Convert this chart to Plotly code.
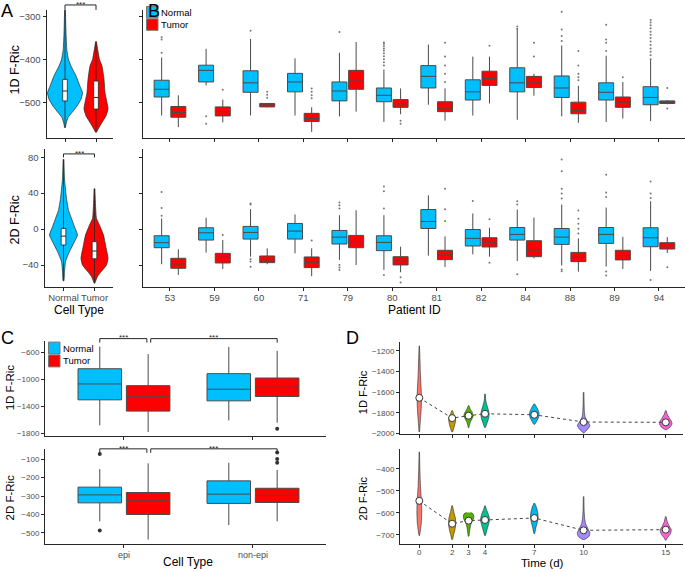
import plotly.graph_objects as go

W, H = 685, 572
def px(x): return x / W
def py(y): return 1 - y / H

FONT = "Liberation Sans, Arial, Helvetica, sans-serif"
BLUE = "#00BFFF"
RED = "#FF0000"
DARK = "#262626"
GREY_TXT = "#4d4d4d"

# ---------------- Panel A: violin density profiles (value, half-width) ----------------
A1_normal_y = [-285, -338, -377, -400, -415, -438, -462, -477, -492, -508, -523, -535, -550, -558]
A1_normal_w = [0.4, 1, 1.8, 3.5, 6, 11, 15, 17.5, 16, 12, 7, 3, 1, 0.4]
A1_tumor_y = [-358, -400, -415, -446, -477, -500, -515, -531, -546, -562, -569]
A1_tumor_w = [0.4, 3.5, 6, 8, 9, 11, 12, 10, 6, 2, 0.4]
A1_box_q1 = [-496, -515]
A1_box_med = [-473, -488]
A1_box_q3 = [-446, -450]
A1_box_lo = [-558, -569]
A1_box_hi = [-285, -358]

A2_normal_y = [77.6, 56, 34, 21, 11.8, 2.6, -6.6, -14, -25, -36, -47, -57.6]
A2_normal_w = [0.4, 1, 3, 5, 8, 11, 14, 11, 6, 2, 1, 0.4]
A2_tumor_y = [45, 26.6, 11.8, 4.4, -6.6, -17.7, -32.5, -40, -47, -52.8, -58.4, -60.2]
A2_tumor_w = [0.4, 1, 2, 5, 9, 11, 13.5, 12, 7, 3, 1, 0.3]
A2_box_q1 = [-17.7, -33]
A2_box_med = [-7.8, -24.4]
A2_box_q3 = [0.7, -14]
A2_box_lo = [-57.6, -60.2]
A2_box_hi = [77.6, 45]

cell_groups = ["Normal", "Tumor"]

# ---------------- Panel B: per-patient box statistics ----------------
patients = ["53", "59", "60", "71", "79", "80", "81", "82", "84", "88", "89", "94"]

B1_normal_q1 = [-487, -452, -476, -475, -496, -498, -466, -494, -475, -488, -494, -505]
B1_normal_med = [-469, -425, -454, -452, -473, -483, -439, -475, -454, -466, -476, -488]
B1_normal_q3 = [-448, -413, -426, -432, -452, -466, -414, -447, -419, -438, -454, -463]
B1_normal_lo = [-530, -460, -530, -530, -532, -545, -505, -530, -540, -532, -545, -543]
B1_normal_hi = [-395, -375, -352, -397, -384, -423, -365, -393, -327, -367, -391, -401]
B1_tumor_q1 = [-534, -531, -510, -544, -469, -511, -521, -460, -465, -526, -511, -502]
B1_tumor_med = [-523, -521, -505, -537, -450, -503, -513, -444, -454, -518, -499, -500]
B1_tumor_q3 = [-509, -510, -502, -525, -425, -493, -498, -427, -439, -499, -487, -496]
B1_tumor_lo = [-557, -546, -511, -568, -521, -527, -542, -502, -484, -547, -537, -504]
B1_tumor_hi = [-483, -493, -501, -511, -359, -467, -467, -393, -433, -461, -452, -494]
B1_normal_out = [
    [-384, -353, -348], [-532, -549], [-333], [], [-336],
    [-360, -364, -369, -374, -379, -385, -392, -399, -406, -414],
    [], [], [-323, -329], [-289, -330, -345, -357], [-319, -353, -361, -380],
    [-308, -314, -320, -327, -335, -342, -350, -358, -366, -374, -382, -390, -399],
]
B1_tumor_out = [
    [], [-470], [-475, -482, -489], [-467, -475, -483, -490], [], [-542, -549],
    [-361, -393, -414, -433, -452], [-368], [-361, -393],
    [-380, -414, -433, -441, -448], [-441], [-466, -514],
]

B2_normal_q1 = [-20.7, -12.2, -11.1, -11.1, -16.6, -24.0, 0.7, -18.8, -12.2, -17.0, -15.9, -19.6]
B2_normal_med = [-15.1, -4.1, -3.7, -2.2, -8.9, -14.8, 8.5, -10.3, -5.9, -8.9, -5.9, -9.6]
B2_normal_q3 = [-7.4, 1.5, 3.0, 6.3, -1.5, -7.4, 21.8, -0.4, 1.8, 0.7, 1.8, 1.5]
B2_normal_lo = [-39.1, -26.2, -30.7, -27.0, -34.3, -45.4, -29.5, -28.1, -35.5, -40.6, -41.7, -46.5]
B2_normal_hi = [11.8, 12.6, 22.2, 16.3, 15.5, 15.5, 37.7, 17.4, 21.8, 27.3, 24.0, 31.0]
B2_tumor_q1 = [-43.6, -37.7, -37.3, -42.8, -20.7, -39.9, -34.0, -19.9, -30.7, -36.2, -34.3, -22.2]
B2_tumor_med = [-38.8, -31.4, -35.5, -36.9, -14.0, -35.5, -28.8, -15.1, -24.4, -31.4, -29.5, -18.5]
B2_tumor_q3 = [-32.5, -27.0, -29.9, -31.0, -7.0, -30.7, -23.6, -9.6, -12.9, -25.9, -23.6, -15.1]
B2_tumor_lo = [-51.0, -44.3, -39.1, -52.4, -39.9, -48.0, -42.1, -30.7, -32.5, -47.3, -44.3, -26.6]
B2_tumor_hi = [-22.5, -12.2, -21.4, -21.4, 21.0, -19.6, -8.1, 1.5, 12.9, -10.3, -8.5, -8.9]
B2_normal_out = [
    [14.8, 23.6, 41.4], [], [27.3, 28.5, -33.5, -36, -42], [],
    [29.5, 26.6, 22.9, -40, -42.8, -45.4], [47.5, 42, 22.9, -51], [], [31.4],
    [31, 27.3, -50.2], [77.4, 64.5, 45, 39.5, 34, -45, -47],
    [60.4, 40.6, 35.8, -47.3, -51.7], [53, 39.5, 34.7, -56.5],
]
B2_tumor_out = [
    [], [-6.6], [], [-12.6], [], [-53.6, -59.5], [45, 22.2, 8.9], [11.1, -37.3],
    [], [20.7, 11.5, 6, 0.5, -4.8], [], [-42.5],
]

# ---------------- Panel C ----------------
cell_types = ["epi", "non-epi"]
C1_normal_q1 = [-1300, -1315]
C1_normal_med = [-1065, -1143]
C1_normal_q3 = [-840, -913]
C1_normal_lo = [-1677, -1604]
C1_normal_hi = [-512, -517]
C1_tumor_q1 = [-1467, -1251]
C1_tumor_med = [-1246, -1114]
C1_tumor_q3 = [-1090, -977]
C1_tumor_lo = [-1775, -1638]
C1_tumor_hi = [-624, -576]
C1_normal_out = [[], []]
C1_tumor_out = [[], [-1726]]

C2_normal_q1 = [-337, -340]
C2_normal_med = [-294, -290]
C2_normal_q3 = [-252, -218]
C2_normal_lo = [-437, -457]
C2_normal_hi = [-154, -120]
C2_tumor_q1 = [-400, -335]
C2_tumor_med = [-326, -296]
C2_tumor_q3 = [-281, -258]
C2_tumor_lo = [-536, -437]
C2_tumor_hi = [-123, -159]
C2_normal_out = [[-73, -487], []]
C2_tumor_out = [[], [-64, -100, -120]]

# ---------------- Panel D ----------------
times = [0, 2, 3, 4, 7, 10, 15]
time_colors = ["#F8766D", "#C49A00", "#53B400", "#00C094", "#00B6EB", "#A58AFF", "#FB61D7"]
D1_center = [-1654, -1850, -1827, -1808, -1818, -1888, -1891]
D2_center = [-545, -649, -635, -632, -623, -679, -676]
D1_prof_y = [
    [-1152, -1264, -1392, -1520, -1616, -1680, -1776, -1872, -1936, -1984],
    [-1776, -1808, -1840, -1866, -1898, -1936, -1968, -1984],
    [-1728, -1760, -1792, -1824, -1856, -1888, -1920, -1942],
    [-1616, -1680, -1728, -1776, -1814, -1856, -1898, -1942],
    [-1712, -1738, -1776, -1808, -1846, -1878, -1910],
    [-1600, -1712, -1792, -1840, -1878, -1920, -1952, -1978, -1994],
    [-1776, -1814, -1846, -1878, -1904, -1936, -1962],
]
D1_prof_w = [
    [0.2, 0.6, 1.0, 1.6, 2.1, 2.2, 1.8, 1.1, 0.6, 0.2],
    [0.3, 1.5, 3.0, 3.5, 3.0, 2.0, 1.0, 0.3],
    [0.3, 1.5, 3.5, 4.7, 3.5, 1.8, 0.8, 0.3],
    [0.3, 0.8, 2.0, 3.5, 4.2, 3.5, 2.0, 0.3],
    [0.3, 2.0, 4.0, 4.8, 4.2, 2.5, 0.5],
    [0.3, 0.5, 0.8, 1.5, 3.5, 6.3, 4.5, 2.0, 0.3],
    [0.3, 1.5, 3.5, 5.5, 6.3, 4.5, 0.5],
]
D2_prof_y = [
    [-322, -405, -480, -555, -601, -646, -676, -703],
    [-566, -593, -623, -649, -676, -699, -721],
    [-598, -604, -616, -631, -649, -668, -691, -706],
    [-567, -585, -608, -631, -653, -676, -703],
    [-555, -573, -598, -619, -643, -668, -694],
    [-525, -585, -623, -649, -673, -691, -706, -718, -721],
    [-616, -640, -660, -676, -694, -714, -724],
]
D2_prof_w = [
    [0.2, 0.6, 1.2, 2.2, 2.4, 2.0, 1.2, 0.2],
    [0.3, 1.5, 3.2, 3.6, 2.8, 1.5, 0.3],
    [2.0, 4.5, 5.3, 4.5, 2.5, 1.5, 0.8, 0.3],
    [0.3, 1.5, 3.5, 4.5, 3.5, 2.0, 0.3],
    [0.3, 2.0, 3.5, 3.8, 3.0, 1.5, 0.3],
    [0.3, 0.5, 1.0, 2.0, 4.5, 6.3, 5.5, 2.0, 0.3],
    [0.3, 1.5, 3.5, 5.5, 4.8, 1.5, 0.3],
]

# ======================================================================
fig = go.Figure()

def violin(center, ys, ws, px_per_unit, color, xa, ya, lw=0.7):
    xs = [center + w / px_per_unit for w in ws] + [center - w / px_per_unit for w in ws[::-1]]
    yy = list(ys) + list(ys[::-1])
    return go.Scatter(x=xs, y=yy, mode="lines", fill="toself", fillcolor=color,
                      line=dict(color=DARK, width=lw, shape="spline", smoothing=0.5),
                      xaxis=xa, yaxis=ya, hoverinfo="skip", showlegend=False)

def inner_box(q1, med, q3, lo, hi, half, xa, ya):
    """Narrow white box-plot drawn over violins (scatter so it sits above the fill)."""
    wx, wy, bx, by, mx, my = [], [], [], [], [], []
    for i in range(len(q1)):
        wx += [i, i, None]
        wy += [lo[i], hi[i], None]
        bx += [i - half, i + half, i + half, i - half, i - half, None]
        by += [q1[i], q1[i], q3[i], q3[i], q1[i], None]
        mx += [i - half, i + half, None]
        my += [med[i], med[i], None]
    return [
        go.Scatter(x=wx, y=wy, mode="lines", line=dict(color=DARK, width=0.8),
                   xaxis=xa, yaxis=ya, hoverinfo="skip", showlegend=False),
        go.Scatter(x=bx, y=by, mode="lines", fill="toself", fillcolor="white",
                   line=dict(color=DARK, width=0.8),
                   xaxis=xa, yaxis=ya, hoverinfo="skip", showlegend=False),
        go.Scatter(x=mx, y=my, mode="lines", line=dict(color=DARK, width=1),
                   xaxis=xa, yaxis=ya, hoverinfo="skip", showlegend=False),
    ]

def stat_box(xpos, q1, med, q3, lo, hi, color, xa, ya, og, lc="#4a4a4a"):
    return go.Box(x=xpos, q1=q1, median=med, q3=q3, lowerfence=lo, upperfence=hi,
                  fillcolor=color, line=dict(color=lc, width=1), whiskerwidth=0,
                  boxpoints=False, xaxis=xa, yaxis=ya, showlegend=False, hoverinfo="skip",
                  offsetgroup=og)

def outliers(out_lists, shift, xa, ya, size, color):
    xs, ys = [], []
    for i, vals in enumerate(out_lists):
        for v in vals:
            xs.append(i + shift)
            ys.append(v)
    return go.Scatter(x=xs, y=ys, mode="markers", marker=dict(size=size, color=color),
                      xaxis=xa, yaxis=ya, hoverinfo="skip", showlegend=False)

# ---- Panel A
A_PX = 31.0
fig.add_trace(violin(0, A1_normal_y, A1_normal_w, A_PX, BLUE, "x", "y"))
fig.add_trace(violin(1, A1_tumor_y, A1_tumor_w, A_PX, RED, "x", "y"))
fig.add_traces(inner_box(A1_box_q1, A1_box_med, A1_box_q3, A1_box_lo, A1_box_hi, 0.075, "x", "y"))
fig.add_trace(violin(0, A2_normal_y, A2_normal_w, A_PX, BLUE, "x2", "y2"))
fig.add_trace(violin(1, A2_tumor_y, A2_tumor_w, A_PX, RED, "x2", "y2"))
fig.add_traces(inner_box(A2_box_q1, A2_box_med, A2_box_q3, A2_box_lo, A2_box_hi, 0.075, "x2", "y2"))

# ---- Panel B
idx = list(range(len(patients)))
OFF = 0.1875
fig.add_trace(stat_box(idx, B1_normal_q1, B1_normal_med, B1_normal_q3, B1_normal_lo, B1_normal_hi, BLUE, "x3", "y3", "N"))
fig.add_trace(stat_box(idx, B1_tumor_q1, B1_tumor_med, B1_tumor_q3, B1_tumor_lo, B1_tumor_hi, RED, "x3", "y3", "T"))
fig.add_trace(outliers(B1_normal_out, -OFF, "x3", "y3", 2, "#777"))
fig.add_trace(outliers(B1_tumor_out, OFF, "x3", "y3", 2, "#777"))
fig.add_trace(stat_box(idx, B2_normal_q1, B2_normal_med, B2_normal_q3, B2_normal_lo, B2_normal_hi, BLUE, "x4", "y4", "N"))
fig.add_trace(stat_box(idx, B2_tumor_q1, B2_tumor_med, B2_tumor_q3, B2_tumor_lo, B2_tumor_hi, RED, "x4", "y4", "T"))
fig.add_trace(outliers(B2_normal_out, -OFF, "x4", "y4", 2, "#777"))
fig.add_trace(outliers(B2_tumor_out, OFF, "x4", "y4", 2, "#777"))

# ---- Panel C
cidx = [0, 1]
fig.add_trace(stat_box(cidx, C1_normal_q1, C1_normal_med, C1_normal_q3, C1_normal_lo, C1_normal_hi, BLUE, "x5", "y5", "N"))
fig.add_trace(stat_box(cidx, C1_tumor_q1, C1_tumor_med, C1_tumor_q3, C1_tumor_lo, C1_tumor_hi, RED, "x5", "y5", "T"))
fig.add_trace(outliers(C1_normal_out, -OFF, "x5", "y5", 4, "#333"))
fig.add_trace(outliers(C1_tumor_out, OFF, "x5", "y5", 4, "#333"))
fig.add_trace(stat_box(cidx, C2_normal_q1, C2_normal_med, C2_normal_q3, C2_normal_lo, C2_normal_hi, BLUE, "x6", "y6", "N"))
fig.add_trace(stat_box(cidx, C2_tumor_q1, C2_tumor_med, C2_tumor_q3, C2_tumor_lo, C2_tumor_hi, RED, "x6", "y6", "T"))
fig.add_trace(outliers(C2_normal_out, -OFF, "x6", "y6", 4, "#333"))
fig.add_trace(outliers(C2_tumor_out, OFF, "x6", "y6", 4, "#333"))

# ---- Panel D
D_PX = 16.43
for xa, ya, pys, pws, cen in [("x7", "y7", D1_prof_y, D1_prof_w, D1_center),
                              ("x8", "y8", D2_prof_y, D2_prof_w, D2_center)]:
    for t, col, ys, ws in zip(times, time_colors, pys, pws):
        fig.add_trace(violin(t, ys, ws, D_PX, col, xa, ya, lw=0.6))
    fig.add_trace(go.Scatter(x=times, y=cen, mode="lines",
                             line=dict(color="#444", width=1, dash="dot"),
                             xaxis=xa, yaxis=ya, hoverinfo="skip", showlegend=False))
    fig.add_trace(go.Scatter(x=times, y=cen, mode="markers",
                             marker=dict(size=7, color="white", line=dict(color="#333", width=1)),
                             xaxis=xa, yaxis=ya, hoverinfo="skip", showlegend=False))

# ======================================================================
def axis(domain, rng, anchor, tickvals=None, ticktext=None, labels=True, fs=9, standoff=None):
    d = dict(domain=domain, range=rng, anchor=anchor, showline=True, linecolor=DARK,
             linewidth=1, ticks="outside", ticklen=3, tickwidth=1, tickcolor=DARK,
             showgrid=False, zeroline=False, fixedrange=True, showticklabels=labels,
             tickfont=dict(size=fs, color=GREY_TXT, family=FONT))
    if standoff is not None:
        d["ticklabelstandoff"] = standoff
    if tickvals is not None:
        d["tickmode"] = "array"
        d["tickvals"] = tickvals
        if ticktext is not None:
            d["ticktext"] = ticktext
    return d

A1_ydom = [py(139), py(10)]
A2_ydom = [py(289), py(150)]
C1_ydom = [py(439), py(343)]
C2_ydom = [py(547.7), py(451.7)]
D1_ydom = [py(437.5), py(344)]
D2_ydom = [py(547.7), py(451.7)]

layout = dict(
    width=W, height=H, margin=dict(l=0, r=0, t=0, b=0),
    paper_bgcolor="white", plot_bgcolor="white", showlegend=False,
    boxmode="group", boxgap=0.25, boxgroupgap=0.1,
    font=dict(family=FONT, color="black"),
    # A
    xaxis=axis([px(46.5), px(113)], [-0.597, 1.548], "y", [0, 1], cell_groups, labels=False),
    yaxis=axis(A1_ydom, [-582.4, -284.5], "x", [-500, -400, -300], fs=9.5),
    xaxis2=axis([px(44.5), px(113)], [-0.613, 1.597], "y2", [0, 1], cell_groups, fs=9.5, standoff=-1),
    yaxis2=axis(A2_ydom, [-64.4, 89.2], "x2", [-40, 0, 40, 80], fs=9.5),
    # B
    xaxis3=axis([px(143), px(685)], [-0.607, 11.586], "y3", idx, patients, labels=False),
    yaxis3=axis(A1_ydom, [-582.4, -284.5], "x3", [-500, -400, -300], labels=False),
    xaxis4=axis([px(143), px(685)], [-0.607, 11.586], "y4", idx, patients, fs=9.5, standoff=-1),
    yaxis4=axis(A2_ydom, [-64.4, 89.2], "x4", [-40, 0, 40, 80], labels=False),
    # C
    xaxis5=axis([px(45), px(326)], [-0.612, 1.566], "y5", cidx, cell_types, labels=False),
    yaxis5=axis(C1_ydom, [-1834, -423.6], "x5", [-1800, -1400, -1000, -600], fs=8),
    xaxis6=axis([px(45), px(326)], [-0.612, 1.566], "y6", cidx, cell_types, fs=9, standoff=-1),
    yaxis6=axis(C2_ydom, [-559, -43], "x6", [-500, -400, -300, -200, -100], fs=8),
    # D
    xaxis7=axis([px(400), px(683)], [-1.175, 16.05], "y7", times, [str(t) for t in times], labels=False),
    yaxis7=axis(D1_ydom, [-2008, -1110.7], "x7", [-2000, -1800, -1600, -1400, -1200], fs=8),
    xaxis8=axis([px(400), px(683)], [-1.175, 16.05], "y8", times, [str(t) for t in times], fs=8, standoff=-2),
    yaxis8=axis(D2_ydom, [-740.7, -307], "x8", [-700, -600, -500, -400], fs=8),
)

ann = []
shapes = []

def text(x, y, s, size, angle=0, color="black", xanchor="center", yanchor="middle"):
    ann.append(dict(x=px(x), y=py(y), xref="paper", yref="paper", text=s,
                    showarrow=False, textangle=angle, xanchor=xanchor, yanchor=yanchor,
                    borderpad=0, font=dict(size=size, color=color, family=FONT)))

# panel letters
text(7, 11.5, "A", 18)
text(154, 11.5, "B", 18)
text(8, 340, "C", 18)
text(352, 340, "D", 18)

# axis titles
text(15, 71, "1D F-Ric", 12.5, angle=-90)
text(15, 222, "2D F-Ric", 12.5, angle=-90)
text(79, 312, "Cell Type", 12)
text(414, 312, "Patient ID", 12)
text(10, 390, "1D F-Ric", 11.5, angle=-90)
text(10, 501, "2D F-Ric", 11.5, angle=-90)
text(188, 566, "Cell Type", 12)
text(363, 395, "1D F-Ric", 11, angle=-90)
text(363, 502, "2D F-Ric", 11, angle=-90)
text(542, 566.5, "Time (d)", 11.5)

# legends (B and C)
def legend(xk, yk_top, kh, kw, tx):
    for i, (lab, col) in enumerate([("Normal", BLUE), ("Tumor", RED)]):
        y0 = yk_top + i * kh
        shapes.append(dict(type="rect", xref="paper", yref="paper", x0=px(xk), x1=px(xk + kw),
                           y0=py(y0 + kh - 0.5), y1=py(y0 + 0.5), fillcolor=col,
                           line=dict(color="#777", width=1)))
        text(tx, y0 + kh / 2, lab, 9.5, xanchor="left")

legend(146.5, 6, 12.5, 11.5, 160)
legend(48.5, 344, 13, 11.5, 62)

# significance brackets
def bracket(xref, xa, xb, ytop, ybot, label_y):
    shapes.append(dict(type="path", xref=xref, yref="paper",
                       path=f"M {xa},{py(ybot)} L {xa},{py(ytop)} L {xb},{py(ytop)} L {xb},{py(ybot)}",
                       line=dict(color=DARK, width=1)))
    ann.append(dict(x=(xa + xb) / 2, y=py(label_y), xref=xref, yref="paper", text="***",
                    showarrow=False, xanchor="center", yanchor="middle",
                    font=dict(size=8, color=DARK, family=FONT)))

bracket("x", 0, 1, 5, 10, 4.5)
bracket("x2", 0, 1, 155, 158.5, 154.5)
bracket("x5", -OFF, OFF - 0.01, 341, 345, 340)
bracket("x5", OFF + 0.02, 1 + OFF, 341, 345, 340)
bracket("x6", -OFF, OFF - 0.01, 452, 456, 451.5)
bracket("x6", OFF + 0.02, 1 + OFF, 452, 456, 451.5)

layout["annotations"] = ann
layout["shapes"] = shapes
fig.update_layout(**layout)
fig.write_html("out.html",
               config={"displayModeBar": False, "staticPlot": True},
               post_script="document.body.style.margin='0px';document.body.style.padding='0px';")
